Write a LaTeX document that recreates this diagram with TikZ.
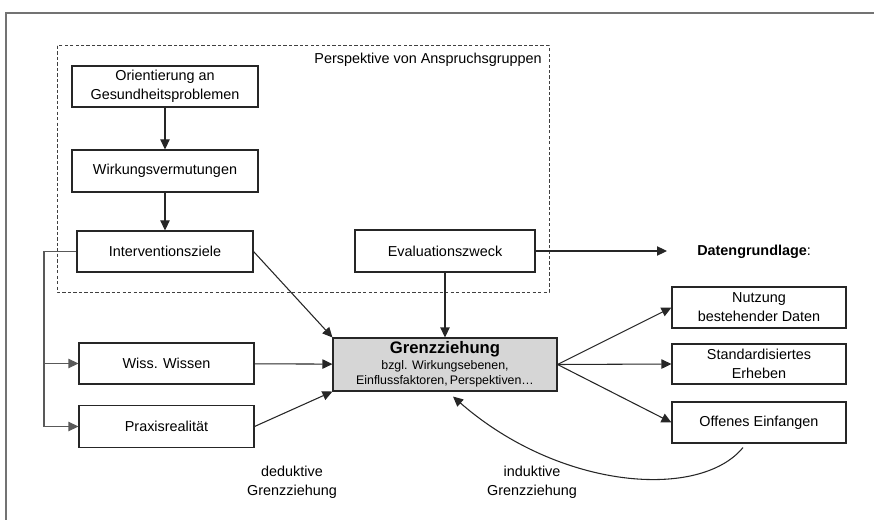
\documentclass[tikz,border=0pt]{standalone}
\usepackage{fontspec}
\setmainfont{Liberation Sans}
\usetikzlibrary{arrows.meta,calc}
\newcommand{\titlesize}{\fontsize{12.5}{14}\selectfont\bfseries}
\newcommand{\subsize}{\fontsize{9.3}{11.2}\selectfont}
\begin{document}
\begin{tikzpicture}[x=0.75pt,y=-0.75pt,
  font=\fontsize{10.8}{14.2}\selectfont,
  box/.style 2 args={draw=black!85, line width=0.8pt, fill=white, inner sep=0pt,
    align=center, minimum width=#1*0.75pt, minimum height=#2*0.75pt},
  arr/.style={draw=black!85, line width=0.8pt, -{Triangle[length=7.5pt,width=7pt]}},
  branch/.style={arr, draw=black!65},
  lbl/.style={align=center, inner sep=0pt}]
  \useasboundingbox (0,0) rectangle (874,520);

  % open page frame
  \draw[black!55, line width=1.5pt] (6,520) -- (6,13) -- (874,13);

  % stakeholder perspective area
  \draw[black!75, line width=0.75pt, dash pattern=on 2.5pt off 1.6pt] (57,46) rectangle (549,292);
  \node[lbl, anchor=east] (persp) at (542,60) {Perspektive von Anspruchsgruppen};

  % boxes
  \node[box={186}{41}] (orient) at (165,86.5) {Orientierung an\\Gesundheitsproblemen};
  \node[box={186}{42}] (wirk) at (165,171) {Wirkungsvermutungen};
  \node[box={176}{41}] (ivz) at (165,251.5) {Interventionsziele};
  \node[box={180}{42}] (eval) at (445,251) {Evaluationszweck};
  \node[box={175}{41}] (wiss) at (166.5,363.5) {Wiss. Wissen};
  \node[box={175}{42}] (prax) at (166.5,426.5) {Praxisrealität};
  \node[box={224}{53}, fill=black!16, font=\subsize] (grenz) at (445,364.5)
    {{\titlesize Grenzziehung}\\[1pt]
     bzgl. Wirkungsebenen,\\Einflussfaktoren,\,Perspektiven\dots};
  \node[box={174}{41}] (nutz) at (759,307.5) {Nutzung\\bestehender Daten};
  \node[box={174}{40}] (std) at (759,364) {Standardisiertes\\Erheben};
  \node[box={174}{41}] (offen) at (759,422.5) {Offenes Einfangen};

  % free labels
  \node[lbl, anchor=west] (daten) at (697,252) {\textbf{Datengrundlage}:};
  \node[lbl] (dedu) at (292,482) {deduktive\\Grenzziehung};
  \node[lbl] (indu) at (532,482) {induktive\\Grenzziehung};

  % chain inside the perspective area
  \draw[arr] (orient) -- (wirk);
  \draw[arr] (wirk) -- (ivz);

  % branching from the intervention goals
  \coordinate (bx) at (44,251.5);
  \draw[branch] (ivz.west) -- (bx) |- (wiss.west);
  \draw[branch] (bx) |- (prax.west);

  % inputs into the boundary setting
  \draw[arr] (ivz.east) -- (grenz.north west);
  \draw[arr] (eval) -- (grenz);
  \draw[arr] (wiss) -- (grenz);
  \draw[arr] (prax.east) -- (grenz.south west);

  % data basis
  \coordinate (dend) at (667,251);
  \draw[arr] (eval.east) -- (dend);
  \draw[arr] (grenz.east) -- (nutz.west);
  \draw[arr] (grenz.east) -- (std.west);
  \draw[arr] (grenz.east) -- (offen.west);

  % inductive feedback
  \coordinate (fbs) at ($(offen.south)+(-16,4)$);
  \coordinate (fbe) at ($(grenz.south)+(8,5)$);
  \draw[arr] (fbs) .. controls (700,500) and (560,490) .. (fbe);
\end{tikzpicture}
\end{document}
